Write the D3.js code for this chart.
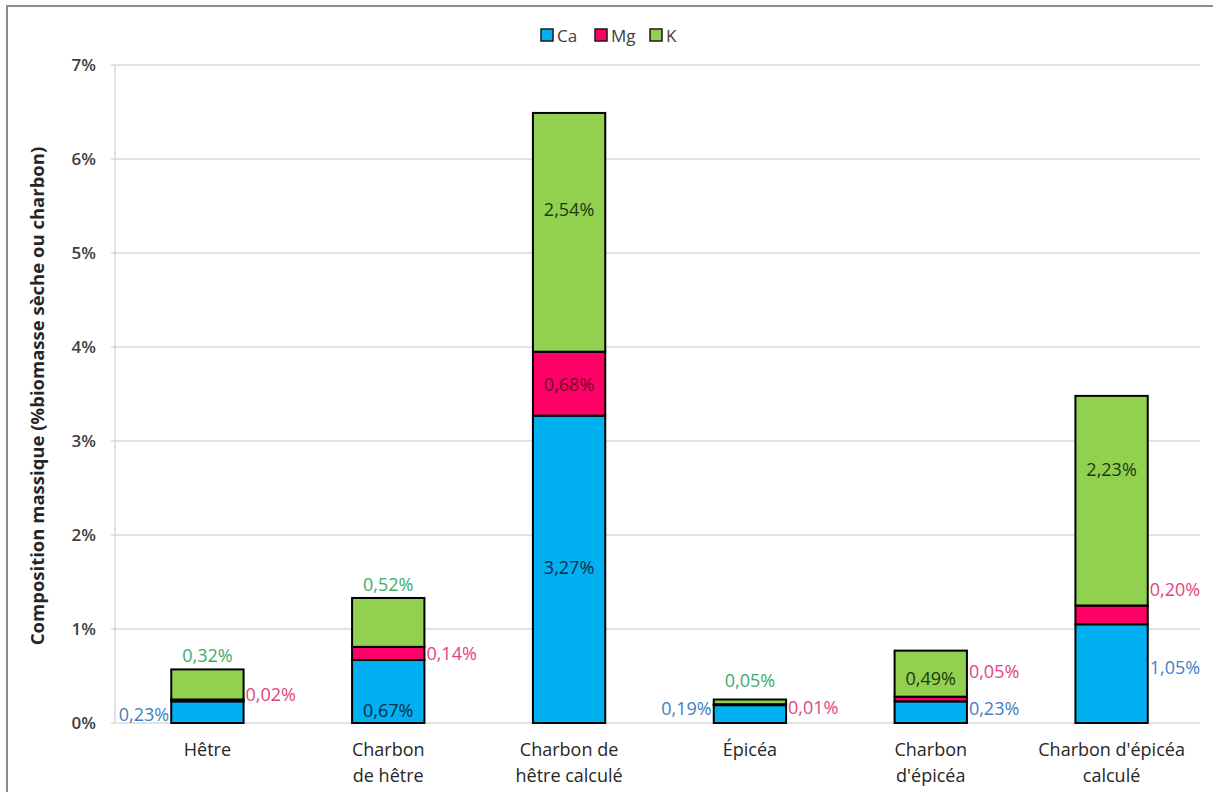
<!DOCTYPE html>
<html>
<head>
<meta charset="utf-8">
<script src="https://cdn.jsdelivr.net/npm/d3@7"></script>
<style>
  body { margin: 0; background: #ffffff; }
  svg { display: block; }
</style>
</head>
<body>
<div id="graf"></div>
<script>
// Composition massique Ca / Mg / K

// Données
categorias = ['Hêtre', 'Charbon de hêtre', 'Charbon de hêtre calculé', 'Épicéa', "Charbon d'épicéa", "Charbon d'épicéa calculé"]
etiquetas  = [['Hêtre'], ['Charbon', 'de hêtre'], ['Charbon de', 'hêtre calculé'], ['Épicéa'], ['Charbon', "d'épicéa"], ["Charbon d'épicéa", 'calculé']]
series = ['Ca', 'Mg', 'K']
ca = [0.23, 0.67, 3.27, 0.19, 0.23, 1.05]
mg = [0.02, 0.14, 0.68, 0.01, 0.05, 0.20]
kk = [0.32, 0.52, 2.54, 0.05, 0.49, 2.23]
ticks = [0, 1, 2, 3, 4, 5, 6, 7]

// placement des étiquettes (Ca, Mg, K) et petit décalage vertical
placement = [
  ['left', 'right', 'above'],
  ['inside', 'right', 'above'],
  ['inside', 'inside', 'inside'],
  ['left', 'right', 'above'],
  ['right', 'right', 'inside'],
  ['right', 'right', 'inside']
]
decalage = [
  [2, -6, 0],
  [18, 0, 0],
  [-2, 0, -23],
  [-6, 2, -6],
  [-4, -28, 4],
  [-7, -26, -32]
]

ancho_total = 1213
alto_total = 792
margins = { top: 65, left: 117, right: 11, bottom: 69 }
ancho = ancho_total - margins.left - margins.right
alto = alto_total - margins.top - margins.bottom

svg = d3.select('#graf').append('svg')
  .attr('width', ancho_total)
  .attr('height', alto_total)
  .style('font-family', "'Open Sans', sans-serif")

// cadre
svg.append('rect')
  .attr('x', 7).attr('y', 6)
  .attr('width', 1400).attr('height', 1000)
  .attr('fill', 'none')
  .attr('stroke', '#8c8c8c')
  .attr('stroke-width', 2)

g = svg.append('g')
  .attr('transform', `translate(${margins.left}, ${margins.top})`)

// Escaladores
x = d3.scaleBand().domain(d3.range(categorias.length)).range([0, ancho])
  .paddingInner(0.6).paddingOuter(0.3)
y = d3.scaleLinear().domain([0, 7]).range([alto, 0])

colores = { Ca: '#00b0f0', Mg: '#ff0066', K: '#92d050' }
colorFuera = { Ca: '#3f80c2', Mg: '#e3457c', K: '#3dac6c' }
colorDentro = { Ca: '#0d2c47', Mg: '#6a0b2e', K: '#1d3a12' }

// grille
g.selectAll('.grid')
  .data(ticks)
  .enter().append('line')
    .attr('x1', -6).attr('x2', ancho - 2)
    .attr('y1', d => y(d)).attr('y2', d => y(d))
    .attr('stroke', '#d9d9d9')
    .attr('stroke-width', 1.5)

g.append('line')
  .attr('x1', -2).attr('x2', -2)
  .attr('y1', 0).attr('y2', alto)
  .attr('stroke', '#d9d9d9')
  .attr('stroke-width', 1.5)

// axe Y
ejeY = g.append('g')
  .attr('transform', 'translate(-2,0)')
  .call(d3.axisLeft(y).tickValues(ticks).tickSize(0).tickPadding(19)
    .tickFormat(d => d + '%'))
ejeY.select('.domain').remove()
ejeY.selectAll('text')
  .attr('font-family', "'Open Sans', sans-serif")
  .attr('font-size', '17px')
  .attr('font-weight', 600)
  .attr('fill', '#404040')

svg.append('text')
  .attr('transform', `translate(44, ${margins.top + alto / 2 + 2}) rotate(-90)`)
  .attr('text-anchor', 'middle')
  .attr('font-size', '18.5px')
  .attr('font-weight', 700)
  .attr('fill', '#262626')
  .text('Composition massique (%biomasse sèche ou charbon)')

// étiquettes des catégories
etiq = g.selectAll('.cat')
  .data(etiquetas)
  .enter().append('text')
    .attr('x', (d, i) => x(i) + x.bandwidth() / 2)
    .attr('y', alto + 33)
    .attr('text-anchor', 'middle')
    .attr('font-size', '18px')
    .attr('fill', '#262626')
etiq.selectAll('tspan')
  .data(d => d)
  .enter().append('tspan')
    .attr('x', function () { return d3.select(this.parentNode).attr('x') })
    .attr('dy', (d, i) => i == 0 ? 0 : 26)
    .text(d => d)

// Barres empilées
tabla = categorias.map((c, i) => ({ cat: i, Ca: ca[i], Mg: mg[i], K: kk[i] }))
pila = d3.stack().keys(series)(tabla)

capas = g.selectAll('.capa')
  .data(pila)
  .enter().append('g')
    .attr('fill', d => colores[d.key])

capas.selectAll('rect')
  .data(d => d)
  .enter().append('rect')
    .attr('x', d => x(d.data.cat))
    .attr('y', d => y(d[1]))
    .attr('width', x.bandwidth())
    .attr('height', d => y(d[0]) - y(d[1]))
    .attr('stroke', '#000000')
    .attr('stroke-width', 2)

// étiquettes des valeurs
fmt = v => d3.format('.2f')(v).replace('.', ',') + '%'
pila.forEach((capa, s) => {
  capa.forEach((d, i) => {
    p = placement[i][s]
    dy = decalage[i][s]
    xc = x(i) + x.bandwidth() / 2
    ym = (y(d[0]) + y(d[1])) / 2
    t = g.append('text')
      .attr('font-size', '18px')
      .attr('dominant-baseline', 'central')
      .text(fmt(d[1] - d[0]))
    if (p == 'left') {
      t.attr('x', x(i) - 2).attr('y', ym + dy).attr('text-anchor', 'end').attr('fill', colorFuera[capa.key])
    } else if (p == 'right') {
      t.attr('x', x(i) + x.bandwidth() + 2).attr('y', ym + dy).attr('text-anchor', 'start').attr('fill', colorFuera[capa.key])
    } else if (p == 'above') {
      t.attr('x', xc).attr('y', y(d[1]) - 14 + dy).attr('text-anchor', 'middle').attr('fill', colorFuera[capa.key])
    } else {
      t.attr('x', xc).attr('y', ym + dy).attr('text-anchor', 'middle').attr('fill', colorDentro[capa.key])
    }
  })
})

// Légende
leyenda = svg.append('g').attr('transform', 'translate(541, 35)')
posLey = [0, 54, 109]
items = leyenda.selectAll('g')
  .data(series)
  .enter().append('g')
    .attr('transform', (d, i) => `translate(${posLey[i]}, 0)`)
items.append('rect')
  .attr('x', 0).attr('y', -6)
  .attr('width', 12).attr('height', 12)
  .attr('fill', d => colores[d])
  .attr('stroke', '#1a1a1a')
  .attr('stroke-width', 1.5)
items.append('text')
  .attr('x', 16).attr('y', 0)
  .attr('dominant-baseline', 'central')
  .attr('font-size', '17px')
  .attr('fill', '#404040')
  .text(d => d)
</script>
</body>
</html>
